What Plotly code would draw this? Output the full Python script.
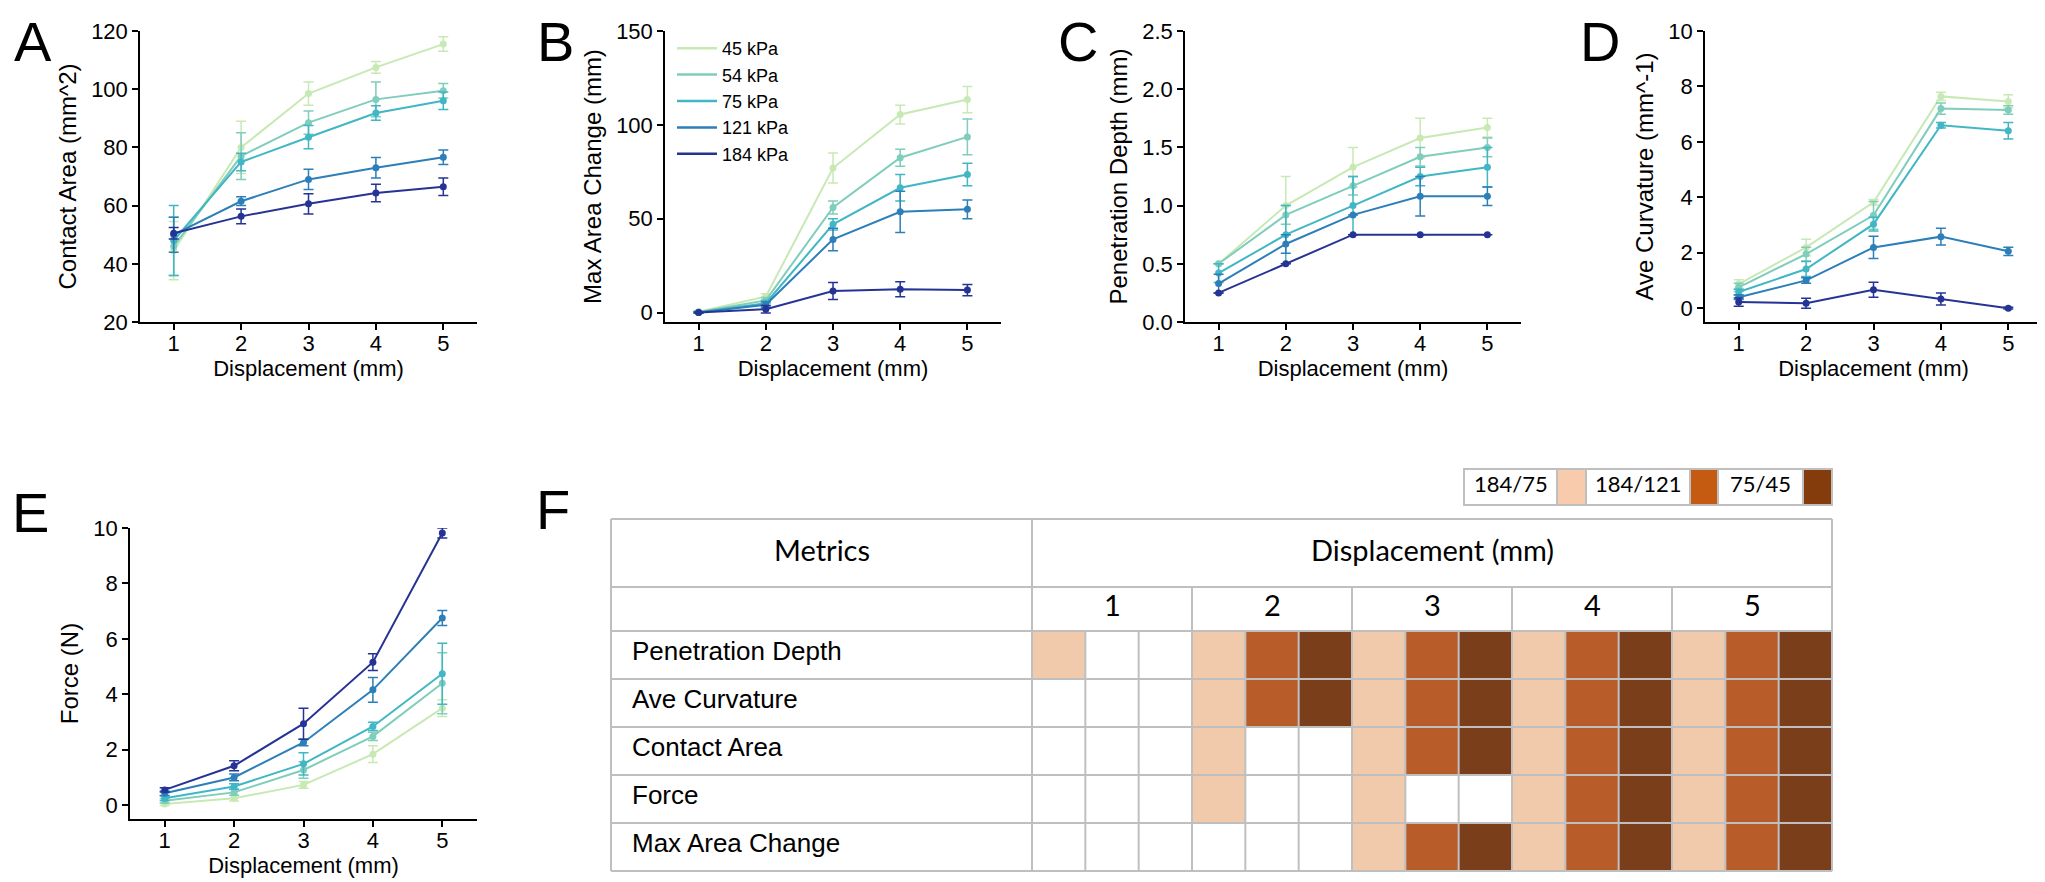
# Stiffness sweep summary: five line panels (A-E) with error bars + significance table (F).
import plotly.graph_objects as go

W, H = 2045, 882
FONT = 'Liberation Sans, Arial, sans-serif'
CAL = 'Lato, Carlito, sans-serif'

displacement = [1, 2, 3, 4, 5]
pressures = ['45 kPa', '54 kPa', '75 kPa', '121 kPa', '184 kPa']
colors = ['#c7e9b4', '#7fcdbb', '#41b6c4', '#2c7fb8', '#253494']

# one row per pressure (45, 54, 75, 121, 184 kPa), one column per displacement
contact_area = [
    [44.5, 80.0, 98.5, 107.5, 115.5],
    [46.0, 77.0, 88.5, 96.5, 99.5],
    [48.0, 75.0, 83.5, 91.8, 96.0],
    [50.0, 61.5, 69.0, 73.0, 76.6],
    [50.5, 56.3, 60.6, 64.3, 66.5],
]
contact_area_err = [
    [10, 9, 4, 2, 2.5],
    [10, 8, 4, 6, 2.5],
    [12, 3, 4, 2.5, 3],
    [6, 1.5, 3.5, 3.5, 2.5],
    [2, 2.5, 3.5, 3, 3],
]
max_area_change = [
    [0.5, 8.5, 77.0, 105.5, 113.5],
    [0.3, 6.5, 56.0, 82.5, 93.6],
    [0.2, 5.0, 47.0, 66.5, 73.6],
    [0.1, 4.2, 39.0, 53.7, 55.0],
    [0.0, 1.8, 11.5, 12.4, 12.0],
]
max_area_change_err = [
    [0.5, 1.5, 8, 5, 7],
    [0.5, 1.5, 3.5, 4.5, 9.5],
    [0.3, 1.5, 3, 7, 6],
    [0.3, 1.5, 6, 11, 5],
    [0.2, 2, 4.5, 4, 3],
]
penetration_depth = [
    [0.50, 1.00, 1.33, 1.58, 1.67],
    [0.50, 0.92, 1.17, 1.42, 1.50],
    [0.42, 0.75, 1.00, 1.25, 1.33],
    [0.33, 0.67, 0.92, 1.08, 1.08],
    [0.25, 0.50, 0.75, 0.75, 0.75],
]
penetration_depth_err = [
    [0.0, 0.25, 0.17, 0.17, 0.08],
    [0.0, 0.08, 0.08, 0.08, 0.08],
    [0.08, 0.25, 0.25, 0.08, 0.17],
    [0.08, 0.08, 0.0, 0.17, 0.08],
    [0.0, 0.0, 0.0, 0.0, 0.0],
]
ave_curvature = [
    [0.87, 2.19, 3.82, 7.64, 7.46],
    [0.75, 1.95, 3.35, 7.20, 7.15],
    [0.58, 1.41, 3.03, 6.60, 6.40],
    [0.39, 1.00, 2.19, 2.58, 2.05],
    [0.22, 0.18, 0.66, 0.33, 0.00],
]
ave_curvature_err = [
    [0.15, 0.3, 0.1, 0.15, 0.24],
    [0.15, 0.25, 0.5, 0.2, 0.15],
    [0.1, 0.27, 0.25, 0.1, 0.3],
    [0.08, 0.1, 0.4, 0.3, 0.15],
    [0.15, 0.18, 0.27, 0.22, 0.03],
]
force = [
    [0.04, 0.25, 0.73, 1.84, 3.50],
    [0.16, 0.46, 1.27, 2.48, 4.40],
    [0.25, 0.67, 1.49, 2.84, 4.74],
    [0.43, 1.00, 2.26, 4.16, 6.75],
    [0.55, 1.42, 2.94, 5.16, 9.82],
]
force_err = [
    [0.05, 0.1, 0.12, 0.3, 0.3],
    [0.08, 0.1, 0.3, 0.15, 1.1],
    [0.08, 0.1, 0.4, 0.15, 1.1],
    [0.08, 0.12, 0.12, 0.45, 0.27],
    [0.08, 0.18, 0.56, 0.3, 0.18],
]

# table F: per displacement, the three comparisons (184/75, 184/121, 75/45); 1 = significant
metrics = ['Penetration Depth', 'Ave Curvature', 'Contact Area', 'Force', 'Max Area Change']
comparisons = ['184/75', '184/121', '75/45']
sig_penetration = [1, 0, 0, 1, 1, 1, 1, 1, 1, 1, 1, 1, 1, 1, 1]
sig_curvature = [0, 0, 0, 1, 1, 1, 1, 1, 1, 1, 1, 1, 1, 1, 1]
sig_contact = [0, 0, 0, 1, 0, 0, 1, 1, 1, 1, 1, 1, 1, 1, 1]
sig_force = [0, 0, 0, 1, 0, 0, 1, 0, 0, 1, 1, 1, 1, 1, 1]
sig_max_area = [0, 0, 0, 0, 0, 0, 1, 1, 1, 1, 1, 1, 1, 1, 1]
cell_colors = ['#ffffff', '#f1c9ab', '#b85d2a', '#7a3e1b']
legend_colors = ['#f8cbad', '#c55a11', '#843c0c']
GRID = '#bfbfbf'


def dom_x(left, right):
    return [left / W, right / W]


def dom_y(top, bottom):
    return [1 - bottom / H, 1 - top / H]


def axis_style():
    return dict(showline=True, linecolor='black', linewidth=1.5, ticks='outside', ticklen=6,
                tickwidth=1.5, tickcolor='black', showgrid=False, zeroline=False, automargin=False,
                tickfont=dict(size=22, color='black', family=FONT))


def label(text, x, y, size, family=FONT, xref='paper', yref='paper', xanchor='center', yanchor='middle'):
    # middle-anchored text sits a little low in plotly, nudge it up to centre the glyphs
    shift = 0.15 * size if yanchor == 'middle' else 0
    return dict(text=text, x=x, y=y, xref=xref, yref=yref, showarrow=False, yshift=shift,
                xanchor=xanchor, yanchor=yanchor, font=dict(size=size, color='black', family=family))


panels = [
    ('A', contact_area, contact_area_err, 'Contact Area (mm^2)', [20, 120],
     [20, 40, 60, 80, 100, 120], None, (132, 469), (23, 314), 25),
    ('B', max_area_change, max_area_change_err, 'Max Area Change (mm)', [-5, 150],
     [0, 50, 100, 150], None, (657, 993), (23, 314), 547),
    ('C', penetration_depth, penetration_depth_err, 'Penetration Depth (mm)', [0, 2.5],
     [0, 0.5, 1.0, 1.5, 2.0, 2.5], '.1f', (1177, 1513), (23, 314), 1070),
    ('D', ave_curvature, ave_curvature_err, 'Ave Curvature (mm^-1)', [-0.5, 10],
     [0, 2, 4, 6, 8, 10], None, (1697, 2034), (23, 314), 1592),
    ('E', force, force_err, 'Force (N)', [-0.5, 10],
     [0, 2, 4, 6, 8, 10], None, (122, 469), (520, 811), 22),
]

fig = go.Figure()
annotations, shapes = [], []
layout = {}

for index, (letter, values, errors, title, yrange, yticks, fmt, xpx, ypx, letter_x) in enumerate(panels):
    suffix = '' if index == 0 else str(index + 1)
    for series, err, color, name in zip(values, errors, colors, pressures):
        fig.add_trace(go.Scatter(
            x=displacement, y=series, mode='lines+markers', name=name, showlegend=False,
            line=dict(color=color, width=2), marker=dict(size=7, color=color),
            error_y=dict(type='data', array=err, color=color, thickness=1.5, width=5),
            xaxis='x' + suffix, yaxis='y' + suffix))
    xaxis = axis_style()
    xaxis.update(domain=dom_x(*xpx), anchor='y' + suffix, range=[0.5, 5.5], tickvals=displacement,
                 ticklabelstandoff=-5,
                 title=dict(text='Displacement (mm)', standoff=0,
                            font=dict(size=22, color='black', family=FONT)))
    yaxis = axis_style()
    yaxis.update(domain=dom_y(*ypx), anchor='x' + suffix, range=yrange, tickvals=yticks,
                 title=dict(text=title, standoff=8, font=dict(size=24, color='black', family=FONT)))
    if fmt:
        yaxis['tickformat'] = fmt
    layout['xaxis' + suffix] = xaxis
    layout['yaxis' + suffix] = yaxis
    if letter == 'E':
        annotations.append(label(letter, letter_x / W, 1 - 513 / H, 56))
    else:
        annotations.append(label(letter, letter_x / W, 1.0, 56, yanchor='top'))

# legend lives in panel B, lines only
for color, name in zip(colors, pressures):
    fig.add_trace(go.Scatter(x=[None], y=[None], mode='lines', name=name,
                             line=dict(color=color, width=2.5), xaxis='x2', yaxis='y2'))

# ---- table F ----
T_LEFT, T_RIGHT, T_TOP = 603, 1824, 511
HEAD1, HEAD2, T_BOTTOM, M_RIGHT = 579, 623, 863, 1024
significance = [sig_penetration, sig_curvature, sig_contact, sig_force, sig_max_area]
z = [[(col % 3 + 1) if flag else 0 for col, flag in enumerate(row)] for row in significance]
fig.add_trace(go.Heatmap(
    z=z, x=list(range(15)), y=list(range(len(metrics))), zmin=0, zmax=3, showscale=False,
    colorscale=[[0, cell_colors[0]], [1 / 3, cell_colors[1]], [2 / 3, cell_colors[2]], [1, cell_colors[3]]],
    hoverinfo='skip', xaxis='x6', yaxis='y6'))
layout['xaxis6'] = dict(domain=dom_x(M_RIGHT, T_RIGHT), anchor='y6', range=[-0.5, 14.5],
                        visible=False, automargin=False)
layout['yaxis6'] = dict(domain=dom_y(HEAD2, T_BOTTOM), anchor='x6', range=[4.5, -0.5],
                        visible=False, automargin=False)

col_w = (T_RIGHT - M_RIGHT) / 15
row_h = (T_BOTTOM - HEAD2) / len(metrics)


def hline(y, x0=T_LEFT, x1=T_RIGHT):
    shapes.append(dict(type='line', xref='paper', yref='paper', x0=x0 / W, x1=x1 / W,
                       y0=1 - y / H, y1=1 - y / H, line=dict(color=GRID, width=2)))


def vline(x, y0, y1):
    shapes.append(dict(type='line', xref='paper', yref='paper', x0=x / W, x1=x / W,
                       y0=1 - y0 / H, y1=1 - y1 / H, line=dict(color=GRID, width=2)))


for y in [T_TOP, HEAD1, HEAD2, T_BOTTOM] + [HEAD2 + r * row_h for r in range(1, len(metrics))]:
    hline(y)
for x in (T_LEFT, M_RIGHT, T_RIGHT):
    vline(x, T_TOP, T_BOTTOM)
for k in range(1, 15):
    vline(M_RIGHT + k * col_w, HEAD1 if k % 3 == 0 else HEAD2, T_BOTTOM)

annotations.append(label('Metrics', (T_LEFT + M_RIGHT) / 2 / W, 1 - 546 / H, 29, CAL))
annotations.append(label('Displacement (mm)', (M_RIGHT + T_RIGHT) / 2 / W, 1 - 546 / H, 29, CAL))
for group, d in enumerate(displacement):
    annotations.append(label(str(d), group * 3 + 1, 1 - 601 / H, 29, CAL, xref='x6'))
for row, name in enumerate(metrics):
    annotations.append(label(name, 622 / W, row, 26, xref='paper', yref='y6', xanchor='left'))
annotations.append(label('F', 545 / W, 1 - 510 / H, 56))

# legend boxes for the table (text cell, then colour swatch)
L_TOP, L_BOTTOM = 461, 497
edges = [1456, 1549, 1578, 1682, 1710, 1795, 1824]
shapes.append(dict(type='rect', xref='paper', yref='paper', x0=edges[0] / W, x1=edges[-1] / W,
                   y0=1 - L_BOTTOM / H, y1=1 - L_TOP / H, line=dict(color=GRID, width=2)))
for i, text in enumerate(comparisons):
    t0, t1, s1 = edges[2 * i], edges[2 * i + 1], edges[2 * i + 2]
    shapes.append(dict(type='rect', xref='paper', yref='paper', x0=t1 / W, x1=s1 / W,
                       y0=1 - L_BOTTOM / H, y1=1 - L_TOP / H, fillcolor=legend_colors[i],
                       line=dict(color=GRID, width=2)))
    annotations.append(label(text, (t0 + t1) / 2 / W, 1 - (L_TOP + L_BOTTOM) / 2 / H, 22, CAL))

fig.update_layout(
    width=W, height=H, margin=dict(l=0, r=0, t=0, b=0, autoexpand=False),
    paper_bgcolor='white', plot_bgcolor='white',
    font=dict(family=FONT, color='black'),
    legend=dict(x=664 / W, y=1 - 22 / H, xanchor='left', yanchor='top', bgcolor='rgba(0,0,0,0)',
                font=dict(size=18, color='black', family=FONT), itemwidth=40, tracegroupgap=0),
    annotations=annotations, shapes=shapes, **layout)

fig.write_html('out.html')
